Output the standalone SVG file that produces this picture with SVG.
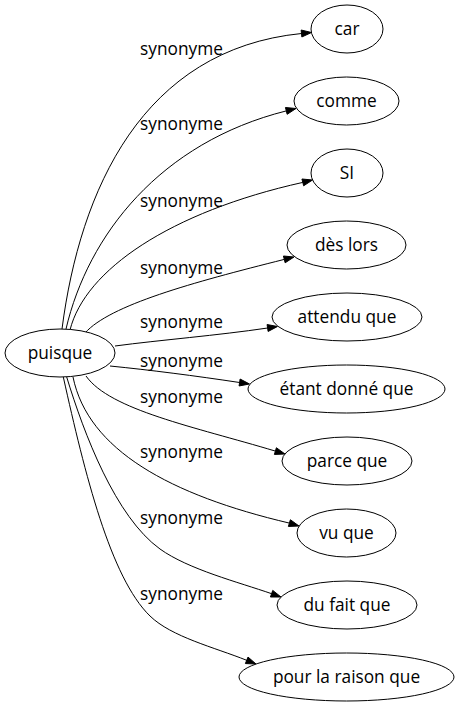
<svg xmlns="http://www.w3.org/2000/svg" width="460" height="707" viewBox="0 0 460 707">
<style>
text{font-family:"Open Sans","DejaVu Sans",sans-serif;font-size:17.3px;fill:#000;text-anchor:middle}
.n ellipse{fill:#fff;stroke:#000;stroke-width:1}
.e path{fill:none;stroke:#000;stroke-width:1}
.e polygon{fill:#000;stroke:#000;stroke-width:1}
</style>
<rect width="460" height="707" fill="#fff"/>
<g id="edges" class="e">
<path d="M62,329 C80,190 142.3,49.4 301.5,33.5"/><polygon points="301.85,36.98 311.5,32.5 301.15,30.02"/>
<path d="M66,329 C88,235 160.2,142.5 286.3,110.9"/><polygon points="287.15,114.3 296,108.5 285.45,107.5"/>
<path d="M70,330 C85,270 170,212 302.8,182.4"/><polygon points="303.65,185.8 312.5,180 301.95,179"/>
<path d="M85,333 C110,305 192.15,282.5 284.3,259.4"/><polygon points="285.15,262.8 294,257 283.45,256"/>
<path d="M115,346 C160,340 218.15,335.4 267.6,328"/><polygon points="268.12,331.46 277.5,326.5 267.08,324.54"/>
<path d="M110,366 C150,370 195.1,375.8 239.6,382.5"/><polygon points="239.08,385.96 249.5,384 240.12,379.04"/>
<path d="M86,376 C110,410 194,426.7 275.4,451.1"/><polygon points="274.4,454.45 285,454 276.4,447.75"/>
<path d="M73,377 C88,450 170,495 289.4,523.1"/><polygon points="288.4,526.45 299,526 290.4,519.75"/>
<path d="M66.7,377 C83.9,433.5 115.4,516.9 160,549 C188.4,569.4 238.6,582.2 271.6,593.7"/><polygon points="270.45,597 281,597 272.75,590.4"/>
<path d="M63.3,377 C84.8,473.7 110.5,577.7 150,616 C171.5,636.9 214.2,647.3 246.7,660.3"/><polygon points="245.4,663.55 256,664 248,657.05"/>
<text x="181.5" y="54.5">synonyme</text>
<text x="181.5" y="130">synonyme</text>
<text x="181.5" y="206.5">synonyme</text>
<text x="181.5" y="274">synonyme</text>
<text x="181.5" y="328">synonyme</text>
<text x="181.5" y="367">synonyme</text>
<text x="181.5" y="403">synonyme</text>
<text x="181.5" y="458">synonyme</text>
<text x="181.5" y="524">synonyme</text>
<text x="181.5" y="599.5">synonyme</text>
</g>
<g id="puisque" class="n"><ellipse cx="60" cy="353" rx="55" ry="24"/><text x="60" y="358.5">puisque</text></g>
<g id="car" class="n"><ellipse cx="347" cy="29" rx="36" ry="24"/><text x="347" y="35">car</text></g>
<g id="comme" class="n"><ellipse cx="346.5" cy="101" rx="52.5" ry="24"/><text x="346.5" y="107">comme</text></g>
<g id="si" class="n"><ellipse cx="347" cy="173" rx="36" ry="24"/><text x="347" y="179">SI</text></g>
<g id="des-lors" class="n"><ellipse cx="346.5" cy="245" rx="59.5" ry="24"/><text x="346.5" y="251">dès lors</text></g>
<g id="attendu-que" class="n"><ellipse cx="347" cy="317" rx="75" ry="24"/><text x="347" y="323">attendu que</text></g>
<g id="etant-donne-que" class="n"><ellipse cx="346.5" cy="389" rx="98.5" ry="24"/><text x="346.5" y="395">étant donné que</text></g>
<g id="parce-que" class="n"><ellipse cx="347" cy="461" rx="65" ry="24"/><text x="347" y="467">parce que</text></g>
<g id="vu-que" class="n"><ellipse cx="346.5" cy="533" rx="49.5" ry="24"/><text x="346.5" y="539">vu que</text></g>
<g id="du-fait-que" class="n"><ellipse cx="347" cy="605" rx="70" ry="24"/><text x="347" y="611">du fait que</text></g>
<g id="pour-la-raison-que" class="n"><ellipse cx="346.5" cy="677" rx="107.5" ry="24"/><text x="346.5" y="683">pour la raison que</text></g>
</svg>
